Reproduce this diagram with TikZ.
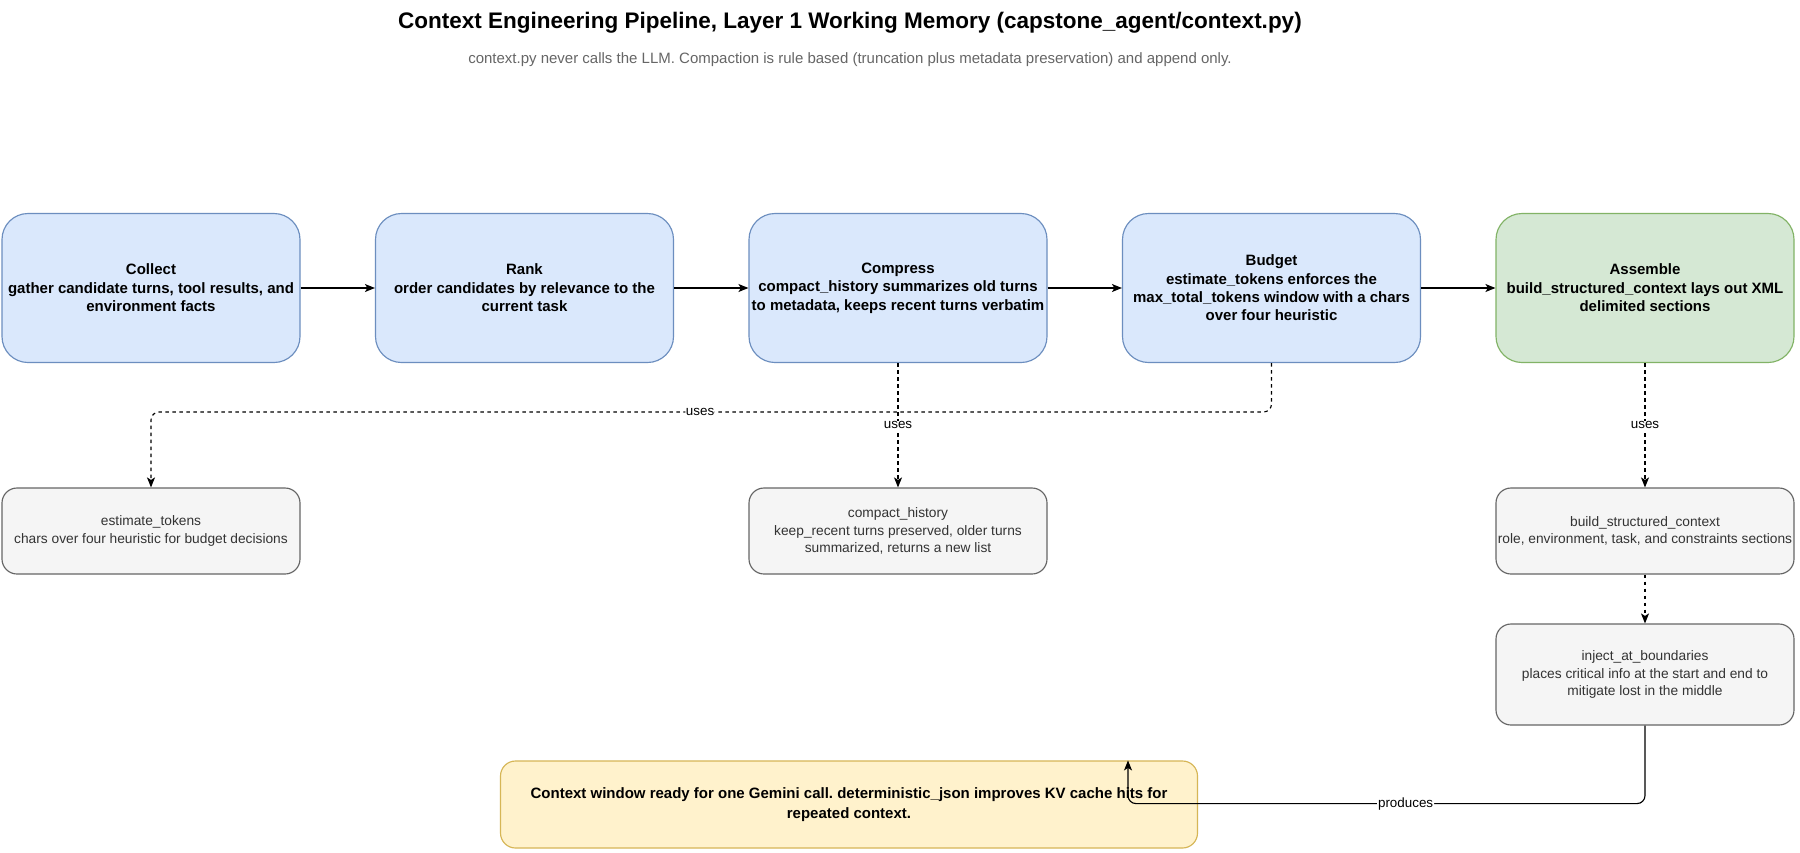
\documentclass[tikz,border=0pt]{standalone}
\usepackage{fontspec}
\setmainfont{Liberation Sans}
\usetikzlibrary{arrows.meta}
\definecolor{blueF}{HTML}{DAE8FC}
\definecolor{blueS}{HTML}{6C8EBF}
\definecolor{greenF}{HTML}{D5E8D4}
\definecolor{greenS}{HTML}{82B366}
\definecolor{grayF}{HTML}{F5F5F5}
\definecolor{grayS}{HTML}{666666}
\definecolor{grayT}{HTML}{333333}
\definecolor{yelF}{HTML}{FFF2CC}
\definecolor{yelS}{HTML}{D6B656}
\definecolor{subT}{HTML}{666666}
\frenchspacing
\begin{document}
\begin{tikzpicture}[x=1pt,y=-1pt,
  stage/.style={draw=blueS, fill=blueF, rounded corners=26pt, minimum width=298pt, minimum height=149pt,
    align=center, inner sep=0pt, line width=1.15pt, font=\fontsize{15}{18.4}\selectfont\bfseries},
  assem/.style={stage, draw=greenS, fill=greenF},
  helper/.style={draw=grayS, fill=grayF, text=grayT, rounded corners=15pt, minimum width=298pt, minimum height=86pt,
    align=center, inner sep=0pt, line width=1.15pt, font=\fontsize{13.75}{17.5}\selectfont},
  result/.style={draw=yelS, fill=yelF, rounded corners=15pt, minimum width=697pt, minimum height=87pt,
    align=center, inner sep=0pt, line width=1.15pt, font=\fontsize{15}{19.8}\selectfont\bfseries},
  flow/.style={draw=black, line width=1.15pt, -{Stealth[length=10pt,width=8pt,inset=2.5pt]}},
  dep/.style={flow, dash pattern=on 3.5pt off 3.5pt},
  lbl/.style={fill=white, inner sep=1pt, font=\fontsize{13.4}{15}\selectfont, text=black},
]
\useasboundingbox (0,0) rectangle (1800,852);
\fill[white] (0,0) rectangle (1800,852);

\node[font=\fontsize{22.5}{26}\selectfont\bfseries] (title) at (850,23) {Context Engineering Pipeline, Layer 1 Working Memory (capstone\_agent/context.py)};
\node[font=\fontsize{15}{17}\selectfont, text=subT] (sub) at (850,60) {context.py never calls the LLM. Compaction is rule based (truncation plus metadata preservation) and append only.};

\node[stage] (collect) at (151,288) {Collect\\gather candidate turns, tool results, and\\environment facts};
\node[stage] (rank) at (524.5,288) {Rank\\order candidates by relevance to the\\current task};
\node[stage] (compress) at (898,288) {Compress\\compact\_history summarizes old turns\\to metadata, keeps recent turns verbatim};
\node[stage] (budget) at (1271.5,288) {Budget\\estimate\_tokens enforces the\\max\_total\_tokens window with a chars\\over four heuristic};
\node[assem] (assemble) at (1645,288) {Assemble\\build\_structured\_context lays out XML\\delimited sections};

\node[helper] (esttok) at (151,531) {estimate\_tokens\\chars over four heuristic for budget decisions};
\node[helper] (compact) at (898,531) {compact\_history\\keep\_recent turns preserved, older turns\\summarized, returns a new list};
\node[helper] (bsc) at (1645,531) {build\_structured\_context\\role, environment, task, and constraints sections};
\node[helper, minimum height=101pt] (inject) at (1645,674.5) {inject\_at\_boundaries\\places critical info at the start and end to\\mitigate lost in the middle};

\node[result] (gemini) at (849,804.5) {Context window ready for one Gemini call. deterministic\_json improves KV cache hits for\\repeated context.};

\draw[flow] (collect) -- (rank);
\draw[flow] (rank) -- (compress);
\draw[flow] (compress) -- (budget);
\draw[flow] (budget) -- (assemble);

\coordinate (bj) at (1271.5,412);
\draw[dep, rounded corners=8pt] (budget.south) -- (bj) -- node[lbl, pos=0.51] {uses} (bj -| esttok.north) -- (esttok.north);
\draw[dep] (compress) -- node[lbl] {uses} (compact);
\draw[dep] (assemble) -- node[lbl] {uses} (bsc);
\draw[dep] (bsc) -- (inject);

\coordinate (pc) at (1128,803.6);
\draw[flow, rounded corners=8pt] (inject.south) -- (inject.south |- pc) -- node[lbl, pos=0.463] {produces} (pc) -- (pc |- gemini.north);
\end{tikzpicture}
\end{document}
